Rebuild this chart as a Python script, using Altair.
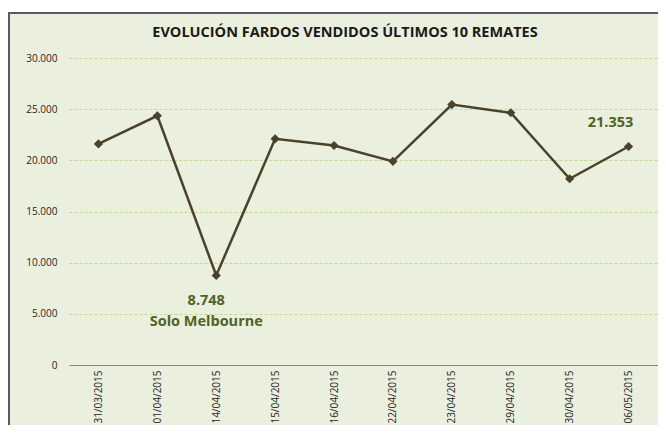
import altair as alt
import pandas as pd

dates = ["31/03/2015", "01/04/2015", "14/04/2015", "15/04/2015", "16/04/2015",
         "22/04/2015", "23/04/2015", "29/04/2015", "30/04/2015", "06/05/2015"]
values = [21600, 24350, 8748, 22100, 21450, 19900, 25450, 24650, 18200, 21353]
y_ticks = [0, 5000, 10000, 15000, 20000, 25000, 30000]
title_text = "EVOLUCIÓN FARDOS VENDIDOS ÚLTIMOS 10 REMATES"

ann1_date = ["14/04/2015"]
ann1_value = [8748]
ann1_text = [["8.748", "Solo Melbourne"]]
ann2_date = ["06/05/2015"]
ann2_value = [21353]
ann2_text = [["21.353"]]

df = pd.DataFrame({"fecha": dates, "fardos": values})
a1 = pd.DataFrame({"fecha": ann1_date, "fardos": ann1_value, "label": ann1_text})
a2 = pd.DataFrame({"fecha": ann2_date, "fardos": ann2_value, "label": ann2_text})

FONT = "Open Sans"
LINE = "#4A4229"
ANN = "#4F6228"
BG = "#EBEFDE"

x_enc = alt.X("fecha:N", sort=dates, scale=alt.Scale(type="point", padding=0.5),
              axis=alt.Axis(title=None, labelAngle=-90, labelAlign="right", labelBaseline="middle",
                            labelPadding=5, ticks=False, domainColor="#868686", domainWidth=1,
                            labelFont=FONT, labelFontSize=10, labelColor="#262626", grid=False))
y_enc = alt.Y("fardos:Q", scale=alt.Scale(domain=[0, 30000], nice=False),
              axis=alt.Axis(title=None, values=y_ticks, domain=False, ticks=False,
                            labelPadding=12, labelFont=FONT, labelFontSize=10, labelColor="#262626",
                            labelExpr="replace(format(datum.value, ','), /,/g, '.')",
                            grid=True, gridColor="#C4D79B", gridDash=[3, 2], gridWidth=1))

one = alt.Data(values=[{}])

white_strip = alt.Chart(one).mark_rect(color="white").encode(
    x=alt.value(-61), x2=alt.value(600), y=alt.value(-50), y2=alt.value(-45))
top_border = alt.Chart(one).mark_rule(color="#5A5A5A", strokeWidth=2).encode(
    x=alt.value(-61), x2=alt.value(600), y=alt.value(-45))
left_border = alt.Chart(one).mark_rule(color="#5A5A5A", strokeWidth=2).encode(
    x=alt.value(-60), y=alt.value(-45), y2=alt.value(400))
title = alt.Chart(alt.Data(values=[{"t": title_text}])).mark_text(
    font=FONT, fontSize=14.5, fontWeight="bold", color="#1a1a1a", align="center", baseline="middle"
).encode(x=alt.value(276), y=alt.value(-25), text="t:N")

line = alt.Chart(df).mark_line(color=LINE, strokeWidth=2.5).encode(x=x_enc, y=y_enc)
pts = alt.Chart(df).mark_point(shape="diamond", filled=True, color=LINE, size=85, opacity=1).encode(
    x=alt.X("fecha:N", sort=dates), y="fardos:Q")

t1 = alt.Chart(a1).mark_text(font=FONT, fontSize=14.5, fontWeight="bold", color=ANN,
                             align="center", baseline="middle", dx=-10, dy=26, lineHeight=21).encode(
    x=alt.X("fecha:N", sort=dates), y="fardos:Q", text="label")
t2 = alt.Chart(a2).mark_text(font=FONT, fontSize=14.5, fontWeight="bold", color=ANN,
                             align="center", baseline="middle", dx=-18, dy=-23).encode(
    x=alt.X("fecha:N", sort=dates), y="fardos:Q", text="label")

chart = alt.layer(white_strip, top_border, left_border, title, line, pts, t1, t2).properties(
    width=589, height=307,
    autosize=alt.AutoSizeParams(type="none"),
    padding={"left": 61, "top": 50, "right": 0, "bottom": 60},
    background=BG,
).configure_view(stroke=None)

chart.save("out.html", embed_options={"renderer": "svg", "actions": False})
